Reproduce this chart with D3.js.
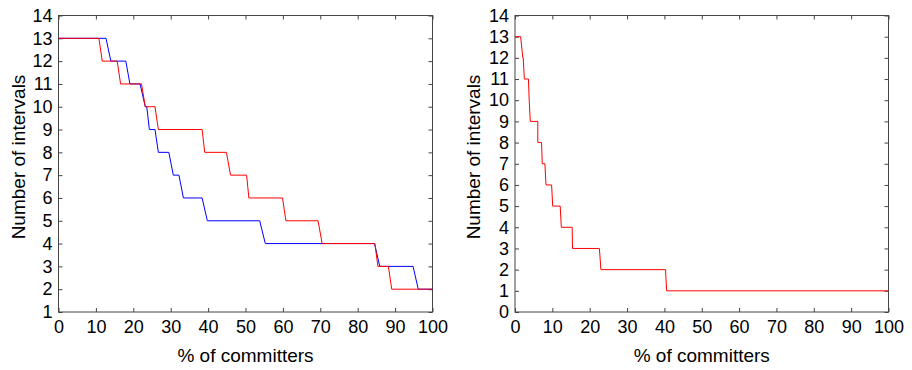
<!DOCTYPE html>
<html>
<head>
<meta charset="utf-8">
<script src="https://cdn.jsdelivr.net/npm/d3@7"></script>
<style>
  body { margin: 0; background: #fff; }
  svg text { font-family: "Liberation Sans", Arial, sans-serif; fill: #000; }
</style>
</head>
<body>
<div id="chart"></div>
<script>
// left panel: two step curves, [% of committers, number of intervals]
const leftRed = [
  [0, 13], [10.8, 13], [11.7, 12], [15.7, 12], [16.6, 11], [22.2, 11], [23.2, 10],
  [25.8, 10], [26.7, 9], [38.4, 9], [39.1, 8], [44.9, 8], [46, 7], [50.3, 7],
  [50.9, 6], [59.9, 6], [60.8, 5], [69.4, 5], [70.5, 4], [84.6, 4], [85.4, 3],
  [88.2, 3], [89.1, 2], [100, 2]
];
const leftBlue = [
  [0, 13], [12.7, 13], [14, 12], [18, 12], [19.1, 11], [21.8, 11], [23.2, 10],
  [23.6, 10], [24.3, 9], [25.8, 9], [26.7, 8], [29.5, 8], [30.7, 7], [32.2, 7],
  [33.4, 6], [38.4, 6], [39.8, 5], [53.8, 5], [55.3, 4], [84.5, 4], [85.9, 3],
  [94.8, 3], [96.2, 2], [100, 2]
];
// right panel: single red curve
const rightRed = [
  [0, 13], [1.5, 13], [2.1, 12], [2.2, 12], [2.5, 11], [3.6, 11], [3.8, 10],
  [4.1, 9], [6.1, 9], [6.1, 8], [7.1, 8], [7.3, 7], [8, 7], [8.3, 6], [9.8, 6],
  [10.1, 5], [12.1, 5], [12.4, 4], [15.3, 4], [15.4, 3], [22.6, 3], [23, 2],
  [40.3, 2], [40.6, 1], [100, 1]
];

const xTicks = [0, 10, 20, 30, 40, 50, 60, 70, 80, 90, 100];
const leftYTicks = [1, 2, 3, 4, 5, 6, 7, 8, 9, 10, 11, 12, 13, 14];
const rightYTicks = [0, 1, 2, 3, 4, 5, 6, 7, 8, 9, 10, 11, 12, 13, 14];

const width = 912, height = 370;
const svg = d3.select('#chart').append('svg')
  .attr('width', width)
  .attr('height', height);

const axisColor = '#444';
const tickFont = 18;
const labelFont = 19;

function drawPanel(opts) {
  const x = d3.scaleLinear().domain([0, 100]).range([opts.left, opts.right]);
  const y = d3.scaleLinear().domain(opts.yDomain).range([opts.bottom, opts.top]);
  const g = svg.append('g');

  // box
  g.append('rect')
    .attr('x', opts.left).attr('y', opts.top)
    .attr('width', opts.right - opts.left).attr('height', opts.bottom - opts.top)
    .attr('fill', 'none').attr('stroke', axisColor).attr('stroke-width', 1);

  // ticks pointing inward on all four sides
  const tl = 4;
  g.append('g').attr('transform', `translate(0,${opts.bottom})`)
    .call(d3.axisBottom(x).tickValues(xTicks).tickSize(-tl).tickPadding(8).tickFormat(d3.format('d')));
  g.append('g').attr('transform', `translate(0,${opts.top})`)
    .call(d3.axisTop(x).tickValues(xTicks).tickSize(-tl).tickFormat(''));
  g.append('g').attr('transform', `translate(${opts.left},0)`)
    .call(d3.axisLeft(y).tickValues(opts.yTicks).tickSize(-tl).tickPadding(6).tickFormat(d3.format('d')));
  g.append('g').attr('transform', `translate(${opts.right},0)`)
    .call(d3.axisRight(y).tickValues(opts.yTicks).tickSize(-tl).tickFormat(''));

  g.selectAll('.domain').remove();
  g.selectAll('.tick line').attr('stroke', axisColor);
  g.selectAll('.tick text').style('font-size', tickFont + 'px').attr('fill', '#000');

  // curves
  const line = d3.line().x(d => x(d[0])).y(d => y(d[1]));
  opts.series.forEach(s => {
    g.append('path')
      .datum(s.data)
      .attr('fill', 'none')
      .attr('stroke', s.color)
      .attr('stroke-width', 1)
      .attr('d', line);
  });

  // axis labels
  g.append('text')
    .attr('x', (opts.left + opts.right) / 2)
    .attr('y', 362)
    .attr('text-anchor', 'middle')
    .style('font-size', labelFont + 'px')
    .text('% of committers');

  g.append('text')
    .attr('transform', `translate(${opts.ylabelX},157) rotate(-90)`)
    .attr('text-anchor', 'middle')
    .style('font-size', labelFont + 'px')
    .text('Number of intervals');
}

drawPanel({
  left: 58.5, right: 432.5, top: 15.5, bottom: 312,
  yDomain: [1, 14], yTicks: leftYTicks, ylabelX: 25,
  series: [
    { data: leftBlue, color: '#0000ff' },
    { data: leftRed, color: '#ff0000' }
  ]
});

drawPanel({
  left: 515, right: 888.5, top: 15.5, bottom: 312,
  yDomain: [0, 14], yTicks: rightYTicks, ylabelX: 480,
  series: [
    { data: rightRed, color: '#ff0000' }
  ]
});
</script>
</body>
</html>
